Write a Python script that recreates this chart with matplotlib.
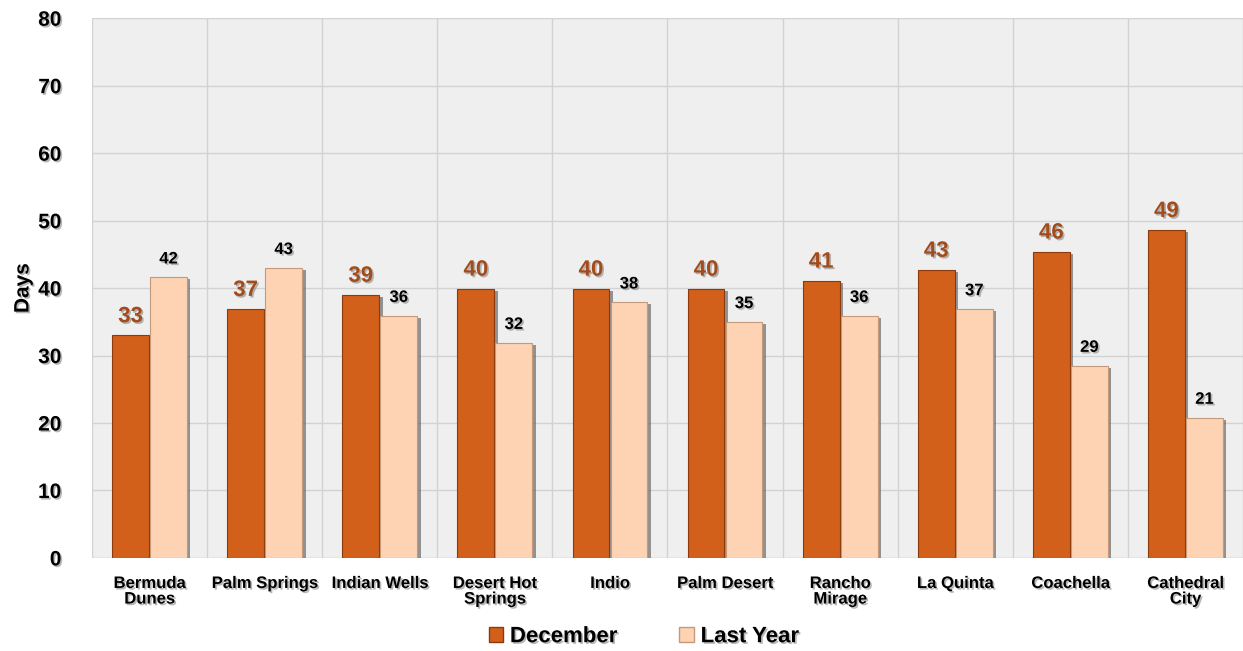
import matplotlib
matplotlib.use("Agg")
import matplotlib.pyplot as plt
import matplotlib.patheffects as pe
from matplotlib.patches import Patch
import numpy as np

plt.rcParams['font.family'] = ['Liberation Sans', 'DejaVu Sans']

categories = ["Bermuda\nDunes", "Palm Springs", "Indian Wells", "Desert Hot\nSprings",
              "Indio", "Palm Desert", "Rancho\nMirage", "La Quinta", "Coachella",
              "Cathedral\nCity"]
december = [33.0, 36.9, 39.0, 39.9, 39.9, 39.9, 41.1, 42.7, 45.4, 48.6]
last_year = [41.6, 43.0, 35.9, 31.9, 37.9, 35.0, 35.9, 36.9, 28.5, 20.8]
dec_labels = ["33", "37", "39", "40", "40", "40", "41", "43", "46", "49"]
ly_labels = ["42", "43", "36", "32", "38", "35", "36", "37", "29", "21"]
yticks = [0, 10, 20, 30, 40, 50, 60, 70, 80]

DEC_COLOR = "#d2601a"
LY_COLOR = "#fdd3b3"
DEC_LABEL = "#a24c1c"

fig = plt.figure(figsize=(12.43, 6.51), dpi=100)
ax = fig.add_axes([0.074, 0.143, 0.926, 0.829])
ax.set_facecolor("#efefef")

x = np.arange(len(categories))
w = 0.32
shadow = [pe.SimplePatchShadow(offset=(2.5, -1.5), shadow_rgbFace="#555555", alpha=0.6), pe.Normal()]
b1 = ax.bar(x - 0.165, december, w, color=DEC_COLOR, edgecolor="#8a3a0c", linewidth=0.8,
            zorder=3, path_effects=shadow)
b2 = ax.bar(x + 0.165, last_year, w, color=LY_COLOR, edgecolor="#c49a7a", linewidth=0.8,
            zorder=3, path_effects=shadow)

tshadow = [pe.withSimplePatchShadow(offset=(1.2, -1.2), shadow_rgbFace="#888888", alpha=0.6)]
for xi, v, lab in zip(x, december, dec_labels):
    ax.text(xi - 0.165, v + 1.2, lab, ha="center", va="bottom", fontsize=16,
            fontweight="bold", color=DEC_LABEL, zorder=5, path_effects=tshadow)
for xi, v, lab in zip(x, last_year, ly_labels):
    ax.text(xi + 0.165, v + 1.6, lab, ha="center", va="bottom", fontsize=12,
            fontweight="bold", color="black", zorder=5, path_effects=tshadow)

ax.set_xlim(-0.5, len(categories) - 0.5)
ax.set_ylim(0, 80)
ax.set_yticks(yticks)
ax.set_yticklabels([str(t) for t in yticks], fontsize=15, fontweight="bold")
for lbl in ax.get_yticklabels():
    lbl.set_path_effects(tshadow)
ax.set_xticks(x)
ax.set_xticklabels(categories, fontsize=12, fontweight="bold", linespacing=1.05)
for lbl in ax.get_xticklabels():
    lbl.set_path_effects(tshadow)
ax.tick_params(axis="x", length=0, pad=13)
ax.tick_params(axis="y", length=0, pad=22)

ax.set_xticks(np.arange(-0.5, len(categories), 1), minor=True)
ax.tick_params(axis="x", which="minor", length=0)
ax.grid(axis="x", which="minor", color="#d2d2d2", linewidth=1, zorder=0)
ax.grid(axis="y", which="major", color="#d2d2d2", linewidth=1, zorder=0)
ax.grid(axis="x", which="major", visible=False)
for s in ax.spines.values():
    s.set_visible(False)
ax.axhline(0, color="#d2d2d2", linewidth=1, zorder=1)

ax.set_ylabel("Days", fontsize=15, fontweight="bold", labelpad=4, path_effects=tshadow)

handles = [Patch(facecolor=DEC_COLOR, edgecolor="#8a3a0c"),
           Patch(facecolor=LY_COLOR, edgecolor="#c49a7a")]
leg = fig.legend(handles, ["December", "Last Year"], loc="center", bbox_to_anchor=(0.518, 0.022),
                 ncol=2, frameon=False, prop={"size": 16, "weight": "bold"},
                 handlelength=0.65, handleheight=0.65, handletextpad=0.3, columnspacing=2.8)
for t in leg.get_texts():
    t.set_path_effects(tshadow)

fig.savefig("out.png", dpi=100)
